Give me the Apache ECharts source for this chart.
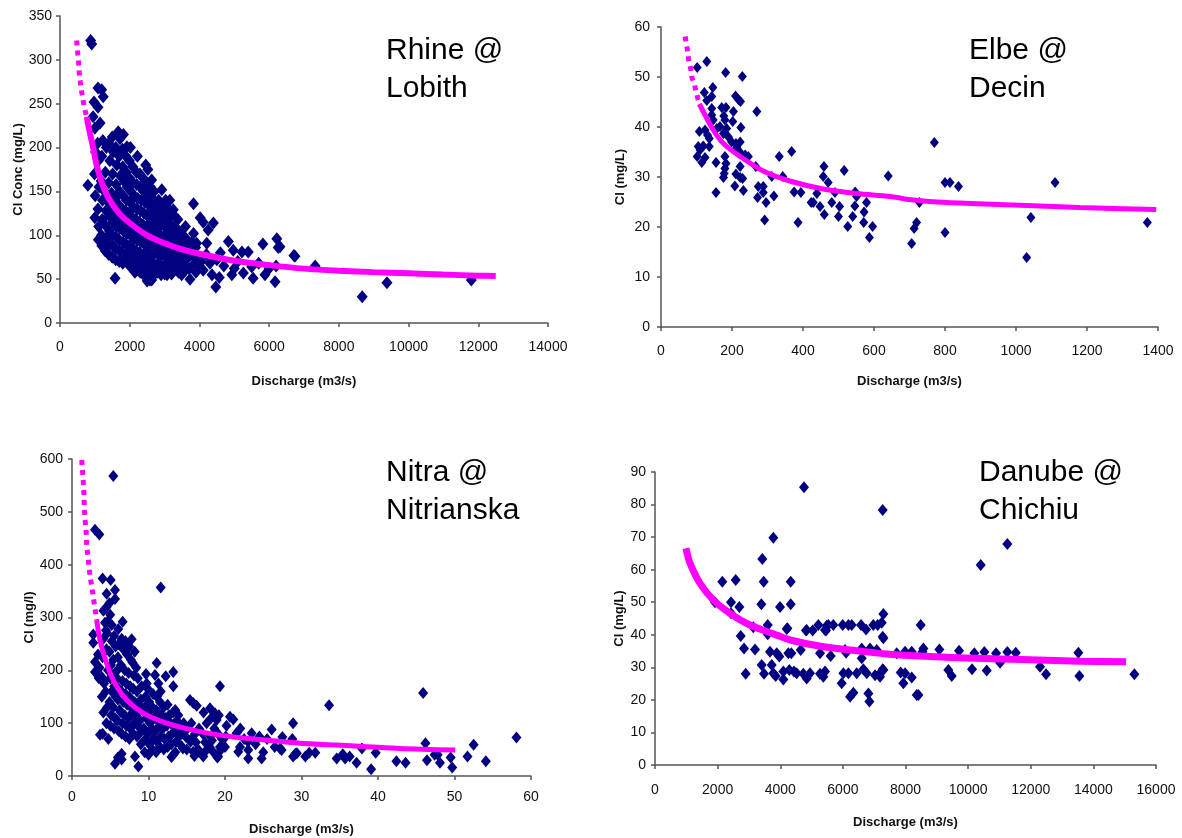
<!DOCTYPE html>
<html>
<head>
<meta charset="utf-8">
<title>Cl concentration vs discharge</title>
<script src="https://cdn.jsdelivr.net/npm/echarts@6/dist/echarts.min.js"></script>
<style>
  html, body { margin: 0; padding: 0; background: #fff; }
  #chart { width: 1182px; height: 838px; }
</style>
</head>
<body>
<div id="chart"></div>
<script>
// ---- data: [discharge, Cl] ----

const rhinePoints = [
  [880,322],[910,318],[1090,268],[1195,266],[1240,258],[975,252],[1090,246],[950,235],[1000,222],[1150,228],
  [800,157],[1670,218],[1920,201],[2460,180],[2920,152],[2630,163],[1580,51],[2630,49],[3150,140],[3250,129],
  [3010,125],[3830,136],[4020,120],[4110,115],[4400,114],[4250,106],[3830,102],[3920,91],[4210,91],[4830,93],
  [4970,83],[5220,81],[5400,81],[5820,90],[6220,96],[6260,86],[6740,76],[3730,50],[3490,55],[4470,41],
  [4570,52],[4360,55],[4110,60],[4930,55],[5260,57],[5540,51],[5880,55],[6170,47],[3070,55],[3160,63],
  [2580,49],[2150,58],[6310,87],[6710,77],[7320,65],[8670,30],[9380,46],[11800,49],
  [4300,68],[4500,72],[4700,65],[5000,62],[5500,64],[5700,68],[6000,62],[4200,78],[3600,110],[3450,100],
  [4050,70],[5100,70],[4600,80],[6200,65],[3950,62],[3650,90],
  [1000,120],[1010,145],[990,170],[1020,195],
  [1100,95],[1110,110],[1090,130],[1120,155],[1100,185],[1080,205],
  [1200,88],[1190,100],[1210,118],[1220,140],[1180,162],[1200,190],[1230,208],
  [1300,82],[1310,96],[1290,112],[1320,128],[1280,150],[1300,172],[1330,200],
  [1400,78],[1390,90],[1420,105],[1410,122],[1380,138],[1400,160],[1430,185],[1400,205],
  [1500,75],[1510,88],[1490,100],[1520,115],[1500,132],[1480,148],[1510,170],[1530,195],[1500,212],
  [1600,72],[1590,85],[1610,98],[1620,110],[1600,125],[1580,142],[1610,158],[1630,180],[1600,200],
  [1700,70],[1710,82],[1690,95],[1720,108],[1700,120],[1680,135],[1710,150],[1730,168],[1700,190],[1720,210],
  [1800,68],[1790,80],[1810,92],[1820,105],[1800,118],[1780,130],[1810,145],[1830,162],[1800,178],[1790,198],[1820,215],
  [1900,70],[1910,78],[1890,90],[1920,102],[1900,115],[1880,128],[1910,140],[1930,155],[1900,172],[1890,190],
  [2000,65],[2010,75],[1990,88],[2020,100],[2000,112],[1980,125],[2010,138],[2030,150],[2000,165],[1990,185],[2020,200],
  [2100,62],[2110,72],[2090,85],[2120,96],[2100,108],[2080,120],[2110,132],[2130,145],[2100,160],[2090,178],
  [2200,60],[2210,70],[2190,82],[2220,94],[2200,105],[2180,118],[2210,130],[2230,142],[2200,158],[2190,172],[2220,190],
  [2300,58],[2310,68],[2290,80],[2320,92],[2300,102],[2280,115],[2310,128],[2330,140],[2300,155],[2290,170],
  [2400,55],[2410,66],[2390,78],[2420,90],[2400,100],[2380,112],[2410,125],[2430,138],[2400,150],[2390,165],
  [2500,48],[2510,62],[2490,75],[2520,86],[2500,98],[2480,110],[2510,122],[2530,135],[2500,148],[2490,160],[2520,175],
  [2600,52],[2610,60],[2590,72],[2620,84],[2600,95],[2580,105],[2610,118],[2630,130],[2600,142],[2590,155],
  [2700,55],[2710,65],[2690,78],[2720,88],[2700,100],[2680,112],[2710,125],[2730,138],[2700,150],
  [2800,58],[2810,68],[2790,80],[2820,92],[2800,104],[2780,115],[2810,128],[2830,140],
  [2900,55],[2910,65],[2890,76],[2920,88],[2900,98],[2880,110],[2910,122],[2930,135],
  [3000,56],[3010,66],[2990,78],[3020,90],[3000,100],[2980,112],[3010,125],[3030,140],
  [3100,60],[3110,72],[3090,84],[3120,95],[3100,108],[3080,118],[3110,130],
  [3200,56],[3210,68],[3190,80],[3220,92],[3200,102],[3180,112],[3210,125],
  [3300,62],[3310,75],[3290,88],[3320,98],[3300,110],[3280,122],
  [3400,58],[3410,70],[3390,82],[3420,94],[3400,105],[3380,118],
  [3500,66],[3510,78],[3490,90],[3520,100],
  [3600,60],[3610,72],[3590,85],[3620,96],
  [3700,62],[3710,76],[3690,88],
  [3800,65],[3810,80],[3790,92],
  [3900,58],[3910,72],[3890,86]
];
const rhineFitDotted = [[478,322],[507,308],[536,296],[554,285],[583,275],[611,266],[651,257],[689,247],[766,235]];
const rhineFitSolid = [[766,235],[861,216],[950,200],[1050,180],[1200,160],[1400,142],[1700,125],[2000,114],[2500,100],
  [3000,91],[3500,84],[4000,79],[5000,71],[6000,66],[7000,62],[8000,59.6],[9000,58],[10000,56.6],[11000,55.2],[12000,54],[12500,53.5]];

const elbePoints = [
  [102,51.9],[129,53.1],[182,50.9],[229,50.1],[122,46.9],[146,47.9],[129,45.3],[143,46.1],[210,46.2],[218,45.5],
  [224,45.1],[270,43.1],[171,43.9],[183,43.9],[204,43.1],[143,43.7],[143,42.4],[147,41.4],[177,42.2],[180,41.4],
  [202,41.1],[166,40.1],[185,39.7],[225,39.9],[157,39.7],[108,39.1],[124,39.4],[131,38.4],[136,37.7],[176,38.7],
  [190,38],[199,37],[211,36.7],[223,37],[213,35.9],[221,35.1],[105,36.1],[119,36.2],[136,36.1],[110,35.4],
  [102,34.1],[124,33.9],[115,32.9],[155,32.9],[180,34.1],[183,32.7],[180,31.7],[178,30.7],[176,29.9],[237,34.4],
  [246,34.1],[223,32.1],[211,30.6],[223,29.9],[230,29.7],[208,28.2],[232,27.3],[155,26.9],[267,32.1],[333,34.1],
  [368,35.1],[312,30.1],[343,30.1],[459,32.1],[457,30.1],[471,28.9],[516,31.3],[640,30.2],
  [272,25.9],[274,28.1],[288,28.1],[288,26.9],[296,24.9],[292,21.4],[318,26.2],[375,27],[394,26.9],[386,20.9],
  [423,24.9],[429,24.9],[439,26.7],[448,24.1],[460,22.5],[481,24.9],[500,22.1],[503,24.1],[490,26.9],[526,20.1],
  [540,22.1],[546,24.2],[547,27],[551,26.1],[579,24.9],[572,23],[571,20.9],[587,17.9],[596,20.1],
  [770,36.9],[800,28.9],[814,28.9],[838,28.1],[728,24.9],[720,20.9],[713,19.7],[706,16.7],[800,18.9],[1030,13.9],
  [1042,21.9],[1110,28.9],[1370,20.9]
];
const elbeFitDotted = [[68,58.1],[74,55.5],[78,53.4],[84,51.5],[87,49.9],[94,48.6],[98,47.3],[103,45.9],[108,44.6]];
const elbeFitSolid = [[108,44.6],[124,42.4],[147,39.4],[176,36.7],[223,34.1],[288,31.2],[363,29.2],[457,27.6],[551,26.7],
  [645,26.1],[711,25.4],[805,24.9],[993,24.4],[1180,23.9],[1395,23.5]];

const nitraPoints = [
  [5.4,568],[3.0,466],[3.57,457],[4.0,374],[5.05,371],[5.62,352],[5.62,335],[4.53,345],[4.88,327],[4.53,320],
  [4.1,313],[6.62,292],[4.31,290],[4.62,292],[5.19,286],[4.44,276],[6.05,278],[2.78,268],[7.8,259],[11.6,357],
  [2.78,252],[3.0,216],[3.0,197],[3.88,188],[4.1,179],[3.66,78],[4.75,70],[5.62,23],[6.49,31],[6.49,42],
  [8.23,37],[8.67,18],[11.07,214],[12.25,189],[13.24,197],[13.24,170],[19.34,170],[10.85,191],[9.76,175],[9.67,193],
  [15.42,144],[15.85,138],[16.3,133],[18.04,128],[18.69,119],[18.91,106],[20.65,112],[21.08,107],[21.5,81],[21.96,55],
  [21.74,46],[23.04,49],[23.04,33],[24.79,33],[23.48,81],[26.1,88],[27.4,49],[27.2,52],[27.5,74],[28.9,100],
  [28.9,37],[29.2,42],[19.34,55],[19.1,37],[17.16,37],[15.85,46],[16.5,46],[17.4,64],[18.3,67],[16.2,64],
  [15.6,70],[13.24,40],[13.0,36],[14.3,57],[14.5,52],[14.9,74],
  [33.6,134],[45.9,157],[28.8,70],[29.4,43],[30.5,37],[31.0,44],[31.8,44],[34.6,33],[35.4,41],[35.7,33],
  [36.3,37],[37.2,25],[37.9,52],[39.1,13],[39.7,44],[42.4,28],[43.6,25],[46.2,62],[46.4,30],[47.4,40],
  [47.8,40],[48.1,25],[49.5,35],[49.7,16],[51.7,37],[52.5,59],[54.1,28],[58.1,73],
  [3.5,185],[3.6,205],[3.4,230],
  [4.0,80],[4.1,120],[3.9,150],[4.2,175],[4.0,225],[4.1,260],
  [4.5,100],[4.6,130],[4.4,160],[4.7,200],[4.5,240],[4.6,270],
  [5.0,95],[5.1,115],[4.9,140],[5.2,160],[5.0,185],[5.1,210],[4.9,235],[5.2,255],[5.0,305],
  [5.5,90],[5.6,110],[5.4,130],[5.7,150],[5.5,170],[5.6,195],[5.4,220],[5.7,245],[5.5,265],
  [6.0,35],[6.1,85],[5.9,105],[6.2,125],[6.0,145],[6.1,165],[5.9,185],[6.2,205],[6.0,225],[6.1,250],
  [6.5,80],[6.6,100],[6.4,120],[6.7,140],[6.5,160],[6.6,180],[6.4,210],[6.7,240],[6.5,260],
  [7.0,75],[7.1,95],[6.9,115],[7.2,135],[7.0,155],[7.1,175],[6.9,200],[7.2,230],[7.0,255],
  [7.5,70],[7.6,90],[7.4,110],[7.7,130],[7.5,150],[7.6,170],[7.4,195],[7.7,220],[7.5,245],
  [8.0,80],[8.1,100],[7.9,120],[8.2,140],[8.0,165],[8.1,190],[7.9,215],[8.2,235],
  [8.5,75],[8.6,95],[8.4,115],[8.7,135],[8.5,160],[8.6,185],[8.4,205],
  [9.0,60],[9.1,85],[8.9,105],[9.2,125],[9.0,145],[9.1,170],
  [9.5,45],[9.6,70],[9.4,90],[9.7,110],[9.5,130],[9.6,150],
  [10.0,40],[10.1,60],[9.9,80],[10.2,100],[10.0,120],[10.1,140],[9.9,165],
  [10.5,50],[10.6,70],[10.4,90],[10.7,110],[10.5,130],[10.6,155],
  [11.0,45],[11.1,65],[10.9,85],[11.2,105],[11.0,125],[11.1,150],[11.3,175],
  [11.5,55],[11.6,75],[11.4,95],[11.7,115],[11.5,140],[11.6,160],
  [12.0,50],[12.1,70],[11.9,90],[12.2,110],[12.0,130],
  [12.5,55],[12.6,75],[12.4,95],[12.7,115],[12.5,135],
  [13.0,60],[13.1,80],[12.9,100],[13.2,120],
  [13.5,45],[13.6,65],[13.4,85],[13.7,105],[13.5,125],
  [14.0,75],[14.1,95],[13.9,115],[14.5,80],[14.6,100],[15.0,50],[15.1,90],[15.5,65],[15.6,100],
  [16.0,38],[16.1,80],[16.5,50],[16.6,90],[17.0,40],[17.1,80],[17.2,120],[17.5,48],[17.6,100],
  [18.0,55],[18.1,75],[18.2,110],[18.5,45],[18.6,90],[19.0,35],[19.1,80],[19.2,115],[19.5,50],[19.6,70],
  [20.0,55],[20.1,75],[20.2,95],[22.5,70],[24.0,60],[25.0,45],[25.5,70],[23.0,65],[26.5,55],[24.5,75],[22.0,90]
];
const nitraFitDotted = [[1.27,598],[1.44,565],[1.57,532],[1.61,505],[1.74,480],[1.87,457],[1.92,437],[2.05,420],[2.18,402],
  [2.31,385],[2.44,371],[2.61,358],[2.71,346],[2.84,333],[2.97,320],[3.1,308],[3.23,295]];
const nitraFitSolid = [[3.23,295],[3.66,257],[4.53,213],[5.62,175],[7.15,144],[9.32,119],[12.38,100],[16.73,84],[21.1,74],
  [25.4,68],[29.8,62],[33.7,59],[38.1,56],[42.9,52],[50.1,49]];

const danubePoints = [
  [4759,85.3],[7272,78.3],[3779,69.8],[3427,63.3],[2150,56.3],[2577,56.8],[3471,56.3],[4334,56.3],[1916,50],[2427,50],
  [2427,46.6],[2694,48.5],[3396,49.4],[3993,48.5],[4334,49.4],[7293,46.4],[7272,39.4],[2737,39.6],[3140,42.3],[3600,43],
  [4206,41.8],[4823,41.3],[5036,41.3],[5216,43],[5461,41.3],[5535,43],[5695,43],[5995,43],[6177,43],[6283,43],
  [6580,43],[6740,41.6],[6973,43],[7114,43],
  [2843,35.8],[2897,28],[3194,35.5],[3407,30.7],[3482,28],[3600,40.2],[3673,34.8],[3727,30.7],[3779,28.2],[3854,27.3],
  [3887,34.3],[3971,33.3],[4099,28.7],[4099,26.3],[4227,42],[4259,34.3],[4291,29.2],[4355,34.3],[4440,28.7],[4525,28.2],
  [4654,35.3],[4737,28],[4845,41.5],[4845,26.6],[4951,28.2],[5270,28],[5270,34.3],[5376,27.1],[5429,28.7],[5429,41.5],
  [5482,42.8],[5611,33.5],[5963,25.1],[6016,28.2],[6070,35.3],[6102,34.5],[6177,28.2],[6229,21],[6335,22.2],[6442,28.2],
  [6602,32.8],[6602,35.8],[6655,29.4],[6762,28.2],[6815,22],[6847,19.5],[6868,35.8],[7028,27.6],[7082,35.3],[7188,28.2],
  [7272,29.4],[7293,38.9],[7240,43.7],[7293,29.2],[7187,27.1],
  [8486,43],[8571,35.8],[8540,34.8],[9081,35.5],[9710,35.1],[10199,34.3],[10518,34.7],[10892,34.3],[11020,31.4],[11252,34.7],
  [11521,34.5],[13521,34.5],[13553,27.3],[15309,27.9],[10125,29.4],[10594,29],[12297,30.2],[12489,27.9],[9368,29.2],[9476,27.3],
  [7847,28.4],[7986,28.2],[8199,26.9],[7932,25.1],[8359,21.5],[8412,21.5],[7986,34.8],[8199,34.8],[7719,34.3],
  [11252,67.9],[10402,61.4]
];
const danubeFitSolid = [[990,66.6],[1118,62],[1437,55.8],[1862,50.7],[2396,46.6],[3034,43],[3887,39.9],[4312,38.4],
  [5376,36.3],[6442,35.1],[7400,34.1],[9317,33.1],[11444,32.5],[13575,31.9],[15044,31.7]];

// ---- layout of the four panels ----
const tickFont = "'Liberation Sans', Arial, sans-serif";
const navy = "#000080";
const magenta = "#ff00ff";

const panels = [
  { title: "Rhine @\nLobith", titlePos: [386, 27],
    grid: { left: 60, top: 16, width: 488, height: 307 },
    xMax: 14000, xStep: 2000, yMax: 350, yStep: 50, yName: "Cl Conc (mg/L)",
    xMargin: 17, yMargin: 8, xNameGap: 52, yNameGap: 35,
    points: rhinePoints, dotted: rhineFitDotted, solid: rhineFitSolid, size: [11, 13], fitWidth: 6 },
  { title: "Elbe @\nDecin", titlePos: [969, 27],
    grid: { left: 661, top: 27, width: 497, height: 300 },
    xMax: 1400, xStep: 200, yMax: 60, yStep: 10, yName: "Cl (mg/L)",
    xMargin: 17, yMargin: 11, xNameGap: 48, yNameGap: 34,
    points: elbePoints, dotted: elbeFitDotted, solid: elbeFitSolid, size: [9, 11], fitWidth: 5 },
  { title: "Nitra @\nNitrianska", titlePos: [386, 449],
    grid: { left: 72, top: 459, width: 459, height: 317 },
    xMax: 60, xStep: 10, yMax: 600, yStep: 100, yName: "Cl (mg/l)",
    xMargin: 14, yMargin: 9, xNameGap: 47, yNameGap: 35,
    points: nitraPoints, dotted: nitraFitDotted, solid: nitraFitSolid, size: [10, 12], fitWidth: 5 },
  { title: "Danube @\nChichiu", titlePos: [979, 449],
    grid: { left: 655, top: 472, width: 501, height: 293 },
    xMax: 16000, xStep: 2000, yMax: 90, yStep: 10, yName: "Cl (mg/L)",
    xMargin: 18, yMargin: 9, xNameGap: 51, yNameGap: 29,
    points: danubePoints, dotted: null, solid: danubeFitSolid, size: [10, 12], fitWidth: 7 }
];

function axisCommon(margin) {
  return {
    type: "value",
    min: 0,
    splitLine: { show: false },
    axisLine: { show: true, onZero: false, lineStyle: { color: "#555", width: 1.5 } },
    axisTick: { show: true, inside: false, length: 4, lineStyle: { color: "#555", width: 1.5 } },
    axisLabel: { margin: margin, color: "#111", fontSize: 14, fontFamily: tickFont,
      formatter: (v) => String(v) },
    nameLocation: "middle",
    nameTextStyle: { fontSize: 13, fontWeight: "bold", color: "#111", fontFamily: tickFont }
  };
}

const grids = [], xAxes = [], yAxes = [], titles = [], series = [];

panels.forEach((p, i) => {
  grids.push(Object.assign({ containLabel: false }, p.grid));

  xAxes.push(Object.assign(axisCommon(p.xMargin), {
    gridIndex: i, max: p.xMax, interval: p.xStep,
    name: "Discharge (m3/s)", nameGap: p.xNameGap
  }));
  yAxes.push(Object.assign(axisCommon(p.yMargin), {
    gridIndex: i, max: p.yMax, interval: p.yStep,
    name: p.yName, nameGap: p.yNameGap
  }));

  titles.push({
    text: p.title, left: p.titlePos[0], top: p.titlePos[1] + 5, padding: 0,
    textStyle: { fontSize: 30, fontWeight: "normal", color: "#000", lineHeight: 38, fontFamily: "'Liberation Sans', Arial, sans-serif" }
  });

  series.push({
    type: "scatter", xAxisIndex: i, yAxisIndex: i,
    data: p.points, symbol: "diamond", symbolSize: p.size,
    itemStyle: { color: navy, opacity: 1 }, silent: true
  });
  if (p.dotted) {
    series.push({
      type: "line", xAxisIndex: i, yAxisIndex: i, data: p.dotted,
      symbol: "none", z: 3, silent: true,
      lineStyle: { color: magenta, width: 5, type: [5, 5], cap: "butt" }
    });
  }
  series.push({
    type: "line", xAxisIndex: i, yAxisIndex: i, data: p.solid,
    symbol: "none", smooth: 0.3, z: 3, silent: true,
    lineStyle: { color: magenta, width: p.fitWidth }
  });
});

const chart = echarts.init(document.getElementById("chart"));
chart.setOption({
  animation: false,
  backgroundColor: "#fff",
  title: titles,
  grid: grids,
  xAxis: xAxes,
  yAxis: yAxes,
  series: series
});
</script>
</body>
</html>
